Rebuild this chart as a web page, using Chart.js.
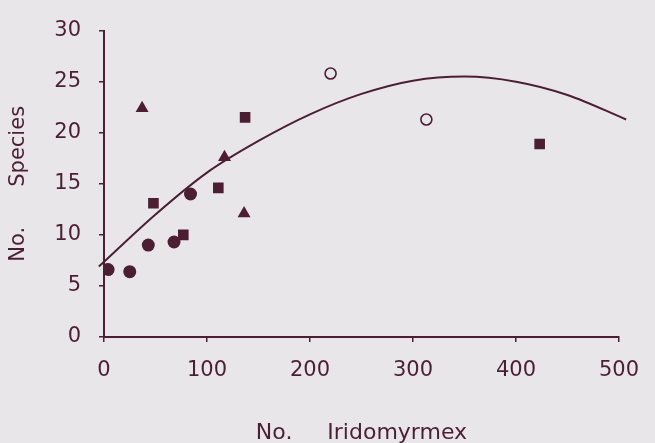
<!DOCTYPE html>
<html>
<head>
<meta charset="utf-8">
<script src="https://cdn.jsdelivr.net/npm/chart.js@4.4.1/dist/chart.umd.min.js"></script>
<style>
  html, body { margin: 0; padding: 0; background: #e9e6ea; }
</style>
</head>
<body>
<canvas id="chart" width="655" height="443"></canvas>
<script>
// tick labels
const xTicks = [0, 100, 200, 300, 400, 500];
const yTicks = [0, 5, 10, 15, 20, 25, 30];

// filled circles
const circleX = [4, 25, 43, 68, 84];
const circleY = [6.6, 6.4, 9.0, 9.3, 14.0];

// filled squares
const squareX = [48, 77, 111, 137, 423];
const squareY = [13.1, 10.0, 14.6, 21.5, 18.9];

// filled triangles
const triangleX = [37, 117, 136, 507];
const triangleY = [22.4, 17.6, 12.1, 21.2];

// open circles
const openX = [220, 313];
const openY = [25.8, 21.3];

// fitted curve
const curveX = [-5, 50, 100, 150, 200, 250, 300, 350, 400, 450, 507];
const curveY = [6.9, 12.0, 16.1, 19.2, 21.8, 23.8, 25.1, 25.5, 25.0, 23.7, 21.3];

const ink = '#4b1f31';
const family = '"DejaVu Sans", sans-serif';

function pts(xs, ys) {
  return xs.map((x, i) => ({ x: x, y: ys[i] }));
}

const config = {
  type: 'scatter',
  data: {
    datasets: [
      {
        label: 'fit',
        data: pts(curveX, curveY),
        showLine: true,
        borderColor: ink,
        borderWidth: 2,
        pointRadius: 0,
        cubicInterpolationMode: 'monotone',
        clip: false,
        order: 5
      },
      {
        label: 'circles',
        data: pts(circleX, circleY),
        pointStyle: 'circle',
        pointRadius: 6.5,
        backgroundColor: ink,
        borderColor: ink,
        borderWidth: 0
      },
      {
        label: 'squares',
        data: pts(squareX, squareY),
        pointStyle: 'rect',
        pointRadius: 7.5,
        backgroundColor: ink,
        borderColor: ink,
        borderWidth: 0
      },
      {
        label: 'triangles',
        data: pts(triangleX, triangleY),
        pointStyle: 'triangle',
        pointRadius: 7.5,
        backgroundColor: ink,
        borderColor: ink,
        borderWidth: 0
      },
      {
        label: 'open',
        data: pts(openX, openY),
        pointStyle: 'circle',
        pointRadius: 5.5,
        backgroundColor: 'rgba(0,0,0,0)',
        borderColor: ink,
        borderWidth: 1.6
      }
    ]
  },
  options: {
    responsive: false,
    animation: false,
    layout: { padding: { left: 6, right: 26, top: 21, bottom: 0 } },
    plugins: {
      legend: { display: false },
      tooltip: { enabled: false }
    },
    scales: {
      x: {
        type: 'linear',
        min: 0,
        max: 500,
        afterBuildTicks: s => { s.ticks = xTicks.map(v => ({ value: v })); },
        afterFit: s => { s.height = 106; },
        border: { display: true, color: ink, width: 2 },
        grid: { drawOnChartArea: false, drawTicks: true, tickLength: 5, color: ink, lineWidth: 1.5 },
        ticks: { color: ink, font: { family: family, size: 21 }, padding: 16, maxRotation: 0 },
        title: { display: true, text: 'No.     Iridomyrmex', color: ink, font: { family: family, size: 22 }, padding: { top: 0, bottom: -3 } }
      },
      y: {
        type: 'linear',
        min: 0,
        max: 30,
        afterBuildTicks: s => { s.ticks = yTicks.map(v => ({ value: v })); },
        afterFit: s => { s.width = 98; },
        border: { display: true, color: ink, width: 2 },
        grid: { drawOnChartArea: false, drawTicks: true, tickLength: 5, color: ink, lineWidth: 1.5 },
        ticks: { color: ink, font: { family: family, size: 21 }, padding: 18 },
        title: { display: true, text: 'No.      Species', color: ink, font: { family: family, size: 21 }, padding: 0 }
      }
    }
  }
};

new Chart(document.getElementById('chart'), config);
</script>
</body>
</html>
